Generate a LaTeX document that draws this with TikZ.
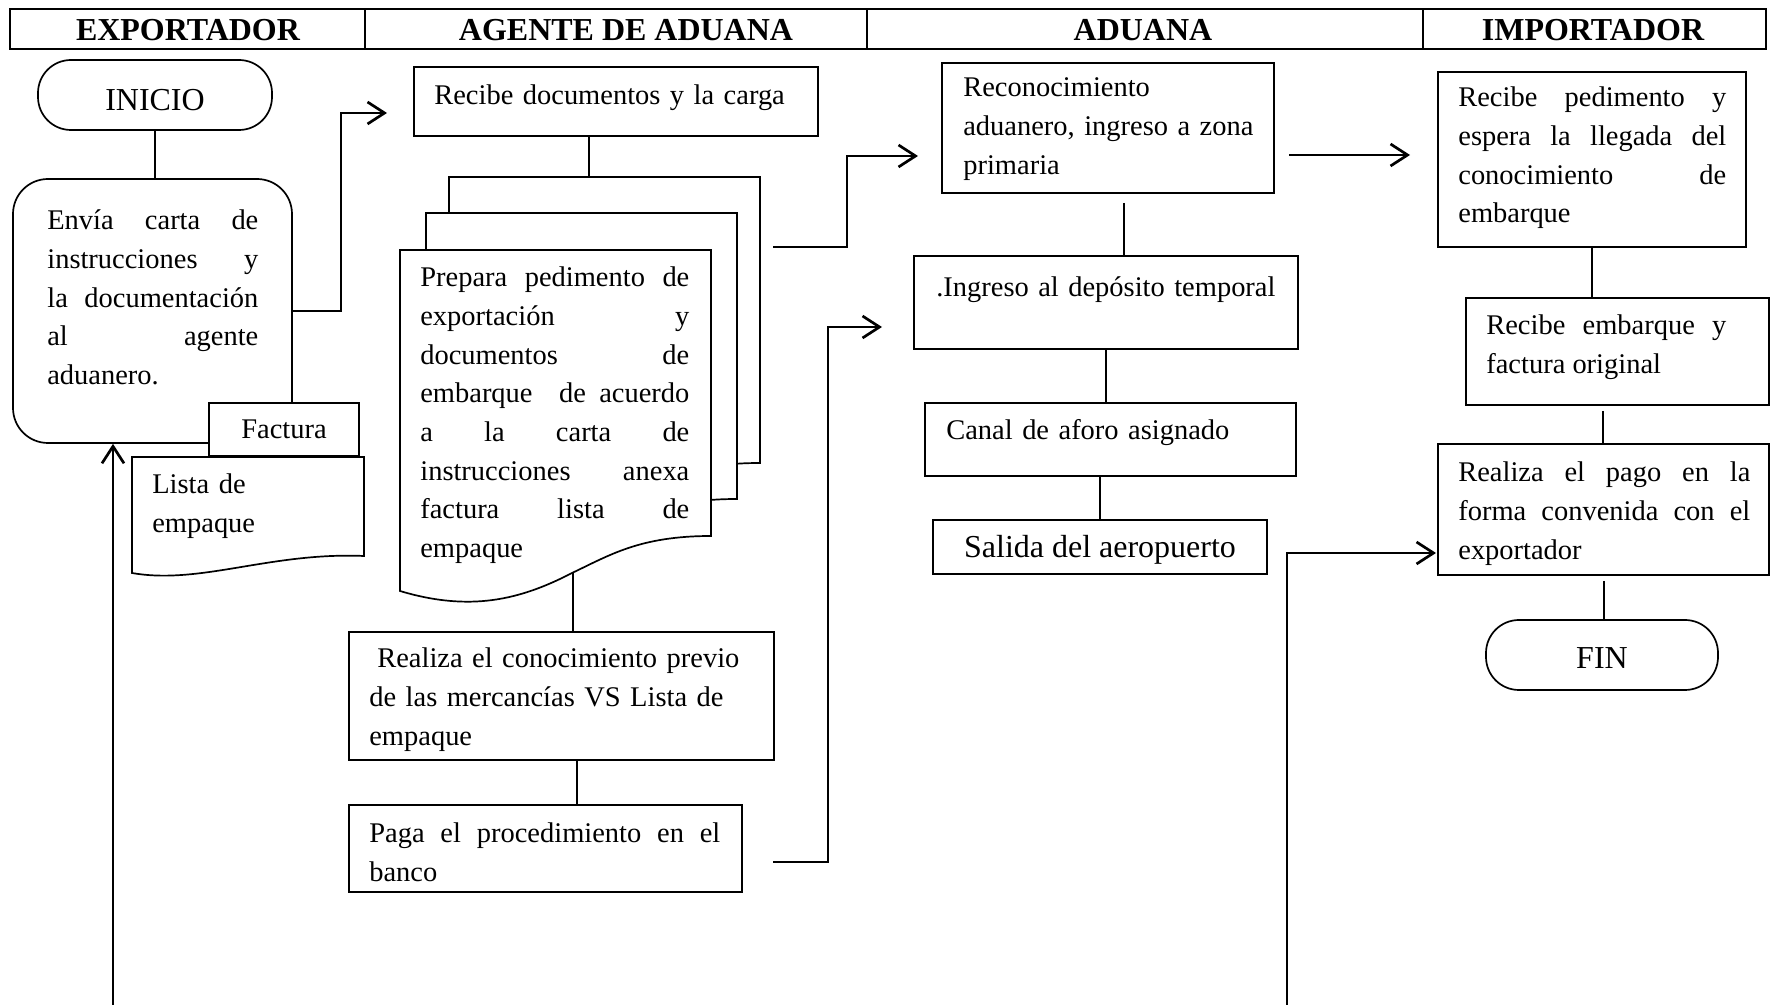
\documentclass[tikz,border=0pt]{standalone}
\usepackage{fontspec}
\setmainfont{Liberation Serif}
\usetikzlibrary{arrows.meta,fit}
\tolerance=10000
\hbadness=10000

\tikzset{
  caja/.style={draw, line width=0.34mm, inner sep=0pt, fill=white},
  linea/.style={line width=0.3mm},
  flecha/.style={line width=0.54mm, -{Straight Barb[length=3.4mm,width=4.4mm]}},
  texto/.style={inner sep=0pt, font=\fontsize{16.2pt}{22pt}\selectfont},
  grande/.style={inner sep=0pt, anchor=base, font=\fontsize{18.2pt}{22pt}\selectfont},
  cabecera/.style={inner sep=0pt, anchor=base, font=\fontsize{18.2pt}{22pt}\selectfont\bfseries},
  just/.style={texto, align=justify, text width=#1, anchor=base west},
  izq/.style={texto, align=left, text width=#1, anchor=base west}
}

\begin{document}
\begin{tikzpicture}[x=0.2mm,y=-0.2mm]
\useasboundingbox (0,0) rectangle (1771,1005);

% encabezado
\draw[line width=0.5mm] (10,9) rectangle (1766,49);
\foreach \x in {365,867,1423}
  \draw[line width=0.4mm] (\x,9) -- (\x,49);
\node[cabecera] (h-exp) at (188,41) {EXPORTADOR};
\node[cabecera] (h-age) at (626,41) {AGENTE DE ADUANA};
\node[cabecera] (h-adu) at (1143,41) {ADUANA};
\node[cabecera] (h-imp) at (1593,41) {IMPORTADOR};

% exportador
\node[caja, rounded corners=6.6mm, fit={(38,60) (272,130)}] (inicio) {};
\node[grande] (inicio-t) at (155,111) {INICIO};
\node[caja, rounded corners=7mm, fit={(13,179) (292,443)}] (envia) {};
\node[just=42.2mm] (envia-t) at (47,230) {Envía carta de\linebreak instrucciones y\linebreak la documentación\linebreak al agente\linebreak aduanero.};
\node[caja, fit={(209,403) (359,456)}] (factura) {};
\node[texto, anchor=base] (factura-t) at (284,439) {Factura};
\draw[caja] (132,457) -- (364,457) -- (364,556) .. controls (270,552) and (200,585) .. (132,573) -- cycle;
\node[izq=40mm] (lista-t) at (152,494) {Lista de\\empaque};

% agente de aduana
\node[caja, fit={(414,67) (818,136)}] (recibe) {};
\node[izq=78mm] (recibe-t) at (434,105) {Recibe documentos y la carga};
\foreach \x/\y in {449/177, 426/213, 400/250}
  \draw[caja, shift={(\x,\y)}] (0,0) -- (311,0) -- (311,286) .. controls (240,286) and (210,305) .. (172,323) .. controls (120,350) and (70,362) .. (0,341) -- cycle;
\node[just=53.8mm] (prepara) at (420,287) {Prepara pedimento de\linebreak exportación y\linebreak documentos de\linebreak embarque~ de acuerdo\linebreak a la carta de\linebreak instrucciones anexa\linebreak factura lista de\linebreak empaque};
\node[caja, fit={(349,632) (774,760)}] (previo) {};
\node[izq=80mm] (previo-t) at (369,668) {\hspace*{1.6mm}Realiza el conocimiento previo\\de las mercancías VS Lista de\\empaque};
\node[caja, fit={(349,805) (742,892)}] (paga) {};
\node[just=70.2mm] (paga-t) at (369,843) {Paga el procedimiento en el\linebreak banco};

% aduana
\node[caja, fit={(942,63) (1274,193)}] (reconoc) {};
\node[izq=60mm] (reconoc-t) at (963,97) {Reconocimiento\\aduanero, ingreso a zona\\primaria};
\node[caja, fit={(914,256) (1298,349)}] (ingreso) {};
\node[izq=72mm] (ingreso-t) at (936,297) {.Ingreso al depósito temporal};
\node[caja, fit={(925,403) (1296,476)}] (canal) {};
\node[izq=68mm] (canal-t) at (946,440) {Canal de aforo asignado};
\node[caja, fit={(933,520) (1267,574)}] (salida) {};
\node[grande] (salida-t) at (1100,558) {Salida del aeropuerto};

% importador
\node[caja, fit={(1438,72) (1746,247)}] (recped) {};
\node[just=53.6mm] (recped-t) at (1458,107) {Recibe pedimento y\linebreak espera la llegada del\linebreak conocimiento de\linebreak embarque};
\node[caja, fit={(1466,298) (1769,405)}] (embarque) {};
\node[just=48mm] (embarque-t) at (1486,335) {Recibe embarque y\linebreak factura original};
\node[caja, fit={(1438,444) (1769,575)}] (pago) {};
\node[just=58.4mm] (pago-t) at (1458,482) {Realiza el pago en la\linebreak forma convenida con el\linebreak exportador};
\node[caja, rounded corners=6.6mm, fit={(1486,620) (1718,690)}] (fin) {};
\node[grande] (fin-t) at (1602,669) {FIN};

% puntos sueltos de los conectores
\coordinate (abajo1) at (113,1005);
\coordinate (abajo2) at (1287,1005);
\coordinate (p1) at (387,113);
\coordinate (tope) at (589,177);
\coordinate (s2) at (773,247);
\coordinate (p2) at (918,156);
\coordinate (ola) at (573,573);
\coordinate (s9) at (577,763);
\coordinate (s3) at (773,862);
\coordinate (p3) at (882,327);
\coordinate (s5) at (1289,155);
\coordinate (p5) at (1410,155);
\coordinate (s6) at (1124,203);
\coordinate (p4) at (1436,553);
\coordinate (s7) at (1603,411);
\coordinate (s8) at (1604,581);

% conectores
\draw[linea] (inicio.south) -- (inicio.south |- envia.north);
\draw[flecha] (abajo1) -- (abajo1 |- envia.south);
\draw[flecha] (envia.east) -- ++(48,0) |- (p1);
\draw[linea] (tope |- recibe.south) -- (tope);
\draw[flecha] (s2) -- ++(74,0) |- (p2);
\draw[linea] (ola) -- (ola |- previo.north);
\draw[linea] (s9 |- previo.south) -- (s9 |- paga.north);
\draw[flecha] (s3) -- ++(55,0) |- (p3);
\draw[flecha] (s5) -- (p5);
\draw[linea] (s6) -- (s6 |- ingreso.north);
\draw[linea] (ingreso.south) -- (ingreso.south |- canal.north);
\draw[linea] (salida.north) -- (salida.north |- canal.south);
\draw[flecha] (abajo2) |- (p4);
\draw[linea] (recped.south) -- (recped.south |- embarque.north);
\draw[linea] (s7) -- (s7 |- pago.north);
\draw[linea] (s8) -- (s8 |- fin.north);
\end{tikzpicture}
\end{document}
